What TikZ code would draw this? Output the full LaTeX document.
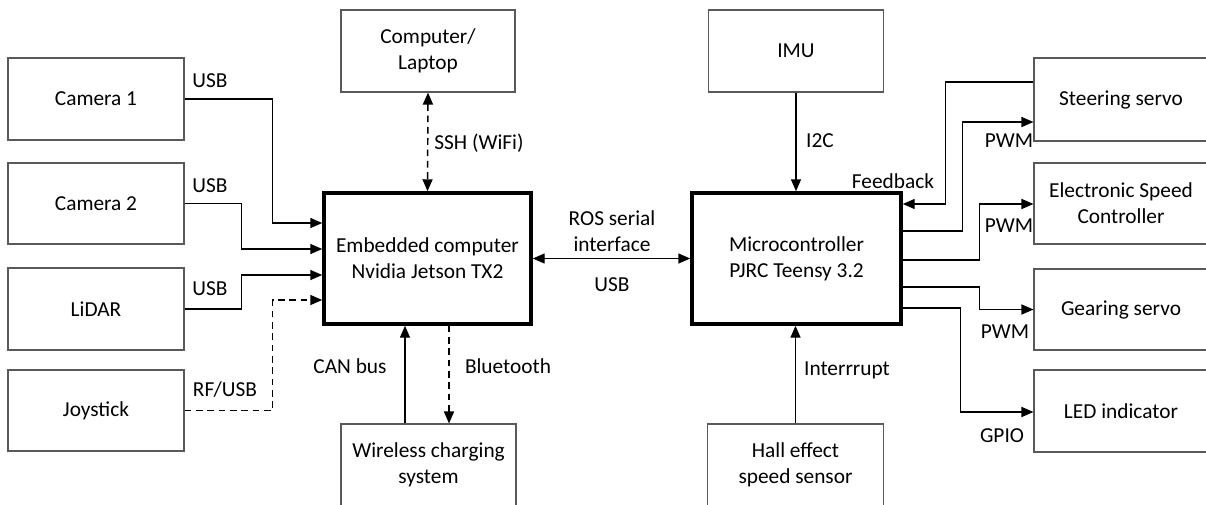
\documentclass[tikz,border=0pt]{standalone}
\usepackage{fontspec}
\setmainfont{Carlito}
\usetikzlibrary{arrows.meta,calc}
\begin{document}
\begin{tikzpicture}[x=0.75pt,y=-0.75pt,
  font=\fontsize{16}{19.5}\selectfont,
  sz/.style 2 args={minimum width=#1*0.75pt, minimum height=#2*0.75pt},
  box/.style={draw=black!65, line width=0.8pt, inner sep=0pt, align=center},
  mainbox/.style={draw=black, line width=2.6pt, inner sep=0pt, align=center},
  conn/.style={draw=black, line width=1.1pt},
  tip/.style={-{Triangle[length=9pt,width=7.5pt]}},
  dtip/.style={{Triangle[length=9pt,width=7.5pt]}-{Triangle[length=9pt,width=7.5pt]}},
  dashline/.style={dash pattern=on 5pt off 3.5pt},
  lbl/.style={inner sep=0pt}]
\clip (0,0) rectangle (1206,504);
% left boxes
\node[box, sz={176}{82}] (cam1) at (96,99) {Camera 1};
\node[box, sz={176}{81}] (cam2) at (96,203.5) {Camera 2};
\node[box, sz={176}{82}] (lidar) at (96,309) {LiDAR};
\node[box, sz={176}{81}] (joy) at (96,410.5) {Joystick};
% centre column
\node[box, sz={174}{82}] (laptop) at (428,51) {Computer/\\Laptop};
\node[mainbox, sz={207}{131}] (jetson) at (427.5,258.5) {Embedded computer\\Nvidia Jetson TX2};
\node[box, sz={175}{82}] (wcs) at (428.5,465) {Wireless charging\\system};
% right column
\node[box, sz={175}{82}] (imu) at (796,51) {IMU};
\node[mainbox, sz={209}{131}] (teensy) at (796.5,258.5) {Microcontroller\\PJRC Teensy 3.2};
\node[box, sz={176}{82}] (hall) at (795.5,465) {Hall effect\\speed sensor};
% right boxes
\node[box, sz={174}{83}] (steer) at (1121,99.5) {Steering servo};
\node[box, sz={174}{81}] (esc) at (1121,203.5) {Electronic Speed\\Controller};
\node[box, sz={174}{81}] (gear) at (1121,309.5) {Gearing servo};
\node[box, sz={174}{82}] (led) at (1121,411) {LED indicator};
% left connectors
\draw[conn,tip] (cam1.east) -- ++(88,0) |- ($(jetson.west)+(0,-35.5)$);
\draw[conn,tip] (cam2.east) -- ++(57,0) |- ($(jetson.west)+(0,-9.5)$);
\draw[conn,tip] (lidar.east) -- ++(57,0) |- ($(jetson.west)+(0,16.5)$);
\draw[conn,tip,dashline] (joy.east) -- ++(88,0) |- ($(jetson.west)+(0,41.5)$);
\node[lbl] (l1) at (210,81) {USB};
\node[lbl] (l2) at (210,186) {USB};
\node[lbl] (l3) at (210,289) {USB};
\node[lbl] (l4) at (225,390) {RF/USB};
% centre connectors
\draw[conn,dtip,dashline] (laptop.south) -- (jetson.north);
\node[lbl] (lssh) at (479,143) {SSH (WiFi)};
\draw[conn,tip] ($(wcs.north)+(-23.5,0)$) -- ($(jetson.south)+(-22.5,0)$);
\draw[conn,tip,dashline] ($(jetson.south)+(21.5,0)$) -- ($(wcs.north)+(20.5,0)$);
\node[lbl] (lcan) at (350,366) {CAN bus};
\node[lbl] (lbt) at (508,366) {Bluetooth};
\draw[conn,dtip] (jetson.east) -- (teensy.west);
\node[lbl, align=center] (lros) at (612,231) {ROS serial\\interface};
\node[lbl] (lusb) at (612,285) {USB};
\draw[conn,tip] (imu.south) -- (imu.south |- teensy.north);
\node[lbl] (li2c) at (820,141) {I2C};
\draw[conn,tip] (hall.north) -- (hall.north |- teensy.south);
\node[lbl] (lint) at (847,370) {Interrrupt};
% right connectors
\draw[conn,tip] ($(steer.west)+(0,-17.5)$) -- ++(-88,0) |- ($(teensy.east)+(0,-54.5)$);
\node[lbl] (lfb) at (893,181) {Feedback};
\draw[conn,tip] ($(teensy.east)+(0,-27.5)$) -- ++(60,0) |- ($(steer.west)+(0,22.5)$);
\node[lbl] (lp1) at (1009,141) {PWM};
\draw[conn,tip] ($(teensy.east)+(0,1.5)$) -- ++(77,0) |- ($(esc.west)+(0,0.5)$);
\node[lbl] (lp2) at (1009,226) {PWM};
\draw[conn,tip] ($(teensy.east)+(0,28.5)$) -- ++(77,0) |- (gear.west);
\node[lbl] (lp3) at (1005,332) {PWM};
\draw[conn,tip] ($(teensy.east)+(0,49.5)$) -- ++(58,0) |- ($(led.west)+(0,1)$);
\node[lbl] (lgpio) at (1002,436) {GPIO};
\end{tikzpicture}
\end{document}
